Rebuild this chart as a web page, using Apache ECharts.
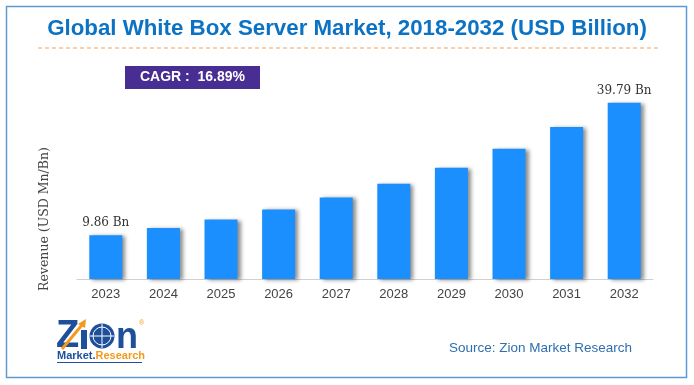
<!DOCTYPE html>
<html>
<head>
<meta charset="utf-8">
<script src="https://cdn.jsdelivr.net/npm/echarts@6/dist/echarts.min.js"></script>
<style>
html,body{margin:0;padding:0;background:#fff;}
#chart{width:694px;height:385px;}
</style>
</head>
<body>
<div id="chart"></div>
<script>
const years = ['2023','2024','2025','2026','2027','2028','2029','2030','2031','2032'];
const revenue = [9.86, 11.5, 13.4, 15.7, 18.4, 21.5, 25.1, 29.4, 34.3, 39.79];
const labelText = ['9.86 Bn', '', '', '', '', '', '', '', '', '39.79 Bn'];
const titleText = 'Global White Box Server Market, 2018-2032 (USD Billion)';
const cagrText = 'CAGR :  16.89%';
const sourceText = 'Source: Zion Market Research';
const yAxisName = 'Revenue (USD Mn/Bn)';

const navy = '#1d4f9b';
const orange = '#f39a1e';

const chart = echarts.init(document.getElementById('chart'), null, {renderer: 'canvas'});
chart.setOption({
  backgroundColor: '#fff',
  animation: false,
  title: {
    text: titleText,
    left: 'center',
    top: 13,
    textStyle: {color: '#0b72c4', fontSize: 22.3, fontWeight: 'bold', fontFamily: 'Liberation Sans'}
  },
  grid: {left: 77, right: 41, top: 79.6, bottom: 106},
  xAxis: {
    type: 'category',
    data: years,
    axisLine: {lineStyle: {color: '#d0d0d0', width: 1}},
    axisTick: {show: false},
    axisLabel: {color: '#444', fontSize: 13, fontFamily: 'Liberation Sans', margin: 9}
  },
  yAxis: {
    type: 'value',
    min: 0,
    max: 45,
    axisLine: {show: false},
    axisTick: {show: false},
    axisLabel: {show: false},
    splitLine: {show: false}
  },
  series: [{
    type: 'bar',
    data: revenue,
    barWidth: 33,
    itemStyle: {
      color: '#1a8ffd',
      shadowColor: 'rgba(0,0,0,0.45)',
      shadowBlur: 4,
      shadowOffsetX: 3,
      shadowOffsetY: 1
    },
    label: {
      show: true,
      position: 'top',
      distance: 6,
      color: '#333',
      fontSize: 12,
      fontFamily: 'DejaVu Serif',
      formatter: p => labelText[p.dataIndex]
    }
  }],
  graphic: [
    {type: 'rect', shape: {x: 6.5, y: 6.5, width: 680, height: 371}, style: {fill: 'none', stroke: '#5b9bd5', lineWidth: 1.5}, silent: true},
    {type: 'line', shape: {x1: 38, y1: 48, x2: 661, y2: 48}, style: {stroke: '#f5a05a', lineWidth: 1, lineDash: [4, 3]}},
    {type: 'rect', shape: {x: 125, y: 66, width: 135, height: 23}, style: {fill: '#482d92'}},
    {type: 'text', x: 192.5, y: 77.5, style: {text: cagrText, fill: '#fff', font: 'bold 14px "Liberation Sans"', align: 'center', verticalAlign: 'middle'}},
    {type: 'text', x: 45, y: 219, rotation: Math.PI / 2, style: {text: yAxisName, fill: '#444', font: '12.5px "DejaVu Serif"', align: 'center', verticalAlign: 'middle'}},
    {type: 'text', x: 632, y: 348, style: {text: sourceText, fill: '#2e6fb0', font: '13.5px "Liberation Sans"', align: 'right', verticalAlign: 'middle'}},
    // logo
    {type: 'text', x: 56, y: 337, style: {text: 'Z', fill: navy, font: 'bold 38px "Liberation Sans"', align: 'left', verticalAlign: 'middle'}},
    {type: 'rect', shape: {x: 81, y: 330, width: 6, height: 19}, style: {fill: navy}},
    {type: 'polyline', shape: {points: [[62, 349], [82, 325]]}, style: {stroke: orange, lineWidth: 3}},
    {type: 'polygon', shape: {points: [[78, 324], [86, 319], [85, 328]]}, style: {fill: orange}},
    {type: 'circle', shape: {cx: 102, cy: 336, r: 12.5}, style: {fill: navy}},
    {type: 'circle', shape: {cx: 102, cy: 336, r: 9}, style: {fill: 'none', stroke: '#fff', lineWidth: 1}},
    {type: 'line', shape: {x1: 102, y1: 324, x2: 102, y2: 348}, style: {stroke: '#fff', lineWidth: 1}},
    {type: 'line', shape: {x1: 90, y1: 336, x2: 114, y2: 336}, style: {stroke: '#fff', lineWidth: 1}},
    {type: 'text', x: 116, y: 338, style: {text: 'n', fill: navy, font: 'bold 36px "Liberation Sans"', align: 'left', verticalAlign: 'middle'}},
    {type: 'text', x: 139, y: 323, style: {text: '®', fill: orange, font: '7px "Liberation Sans"', align: 'left', verticalAlign: 'middle'}},
    {type: 'text', x: 57, y: 356, style: {
      rich: {a: {fill: navy, font: 'bold 11px "Liberation Sans"'}, b: {fill: orange, font: 'bold 11px "Liberation Sans"'}},
      text: '{a|Market.}{b|Research}', verticalAlign: 'middle'}},
    {type: 'line', shape: {x1: 57, y1: 362.5, x2: 142, y2: 362.5}, style: {stroke: navy, lineWidth: 1}}
  ]
});
</script>
</body>
</html>
